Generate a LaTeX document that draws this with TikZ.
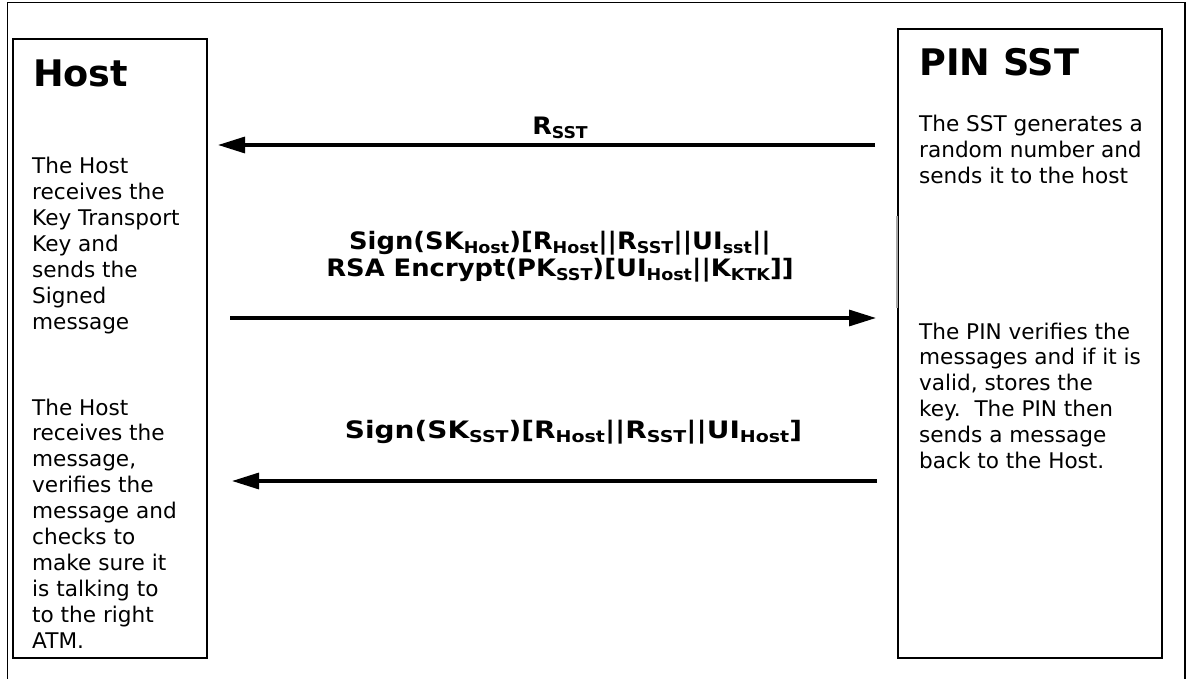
\documentclass[tikz,border=0pt]{standalone}
\usepackage{fontspec}
\setmainfont{DejaVu Sans}
\usetikzlibrary{arrows.meta}

% subscript in the message labels
\newcommand\sbs[1]{\raisebox{-4pt}{\fontsize{16.3}{16.3}\selectfont #1}}
% blocks of lines; the node's baseline is the first line's
\newcommand\leftlines[1]{\begin{tabular}[t]{@{}l@{}}#1\end{tabular}}
\newcommand\midlines[1]{\begin{tabular}[t]{@{}c@{}}#1\end{tabular}}
% message text widened to the proportions of a broad bold face
\newcommand\wide[2]{\scalebox{#1}[1]{#2}}

\begin{document}
\begin{tikzpicture}[x=1pt,y=-1pt,
  party/.style={draw, line width=2.2pt, inner sep=0pt, anchor=north west},
  heading/.style={font=\bfseries\fontsize{36.6}{40}\selectfont, inner sep=0pt, anchor=base west},
  body/.style={font=\fontsize{21.6}{25.9}\selectfont, inner sep=0pt, anchor=base west},
  msg/.style={font=\bfseries\fontsize{24}{27}\selectfont, inner sep=0pt, anchor=base},
  conn/.style={line width=3.2pt, -{Triangle[length=27pt,width=16pt]}}]

\useasboundingbox[fill=white] (0,0) rectangle (1186,679);

% outer frame, open at the bottom
\draw[line width=1.5pt] (7.3,679) -- (7.3,2.6) -- (1185,2.6) -- (1185,679);

% the two parties
\node[party, minimum width=194.3pt, minimum height=619pt] (host) at (11.7,38) {};
\node[party, minimum width=264pt, minimum height=629pt] (pin) at (897,28) {};
\draw[gray!70, line width=1.4pt] (897,216) -- (897,308);

\node[heading] (hosttitle) at (33,86.7) {Host};
\node[heading] (pintitle) at (919,76) {PIN SST};

\node[body] (hostA) at (32,174) {\leftlines{The Host\\receives the\\Key Transport\\Key and\\sends the\\Signed\\message}};
\node[body] (hostB) at (32,415) {\leftlines{The Host\\receives the\\message,\\verifies the\\message and\\checks to\\make sure it\\is talking to\\to the right\\ATM.}};

\node[body] (pinA) at (919,132) {\leftlines{The SST generates a\\random number and\\sends it to the host}};
\node[body] (pinB) at (919,339) {\leftlines{The PIN verifies the\\messages and if it is\\valid, stores the\\key.\ \ The PIN then\\sends a message\\back to the Host.}};

% message arrows
\coordinate (m1from) at (875,145);
\coordinate (m1to) at (218,145);
\coordinate (m2from) at (230,318);
\coordinate (m2to) at (876,318);
\coordinate (m3from) at (877,481);
\coordinate (m3to) at (232,481);

\draw[conn] (m1from) -- (m1to);
\draw[conn] (m2from) -- (m2to);
\draw[conn] (m3from) -- (m3to);

\node[msg] (lab1) at (560,135) {\wide{1.06}{R\sbs{SST}}};
\node[msg] (lab2) at (560,250) {\wide{1.075}{\midlines{Sign(SK\sbs{Host})[R\sbs{Host}||R\sbs{SST}||UI\sbs{sst}||\\RSA Encrypt(PK\sbs{SST})[UI\sbs{Host}||K\sbs{KTK}]]}}};
\node[msg] (lab3) at (573.5,438.5) {\wide{1.165}{Sign(SK\sbs{SST})[R\sbs{Host}||R\sbs{SST}||UI\sbs{Host}]}};

\end{tikzpicture}
\end{document}
